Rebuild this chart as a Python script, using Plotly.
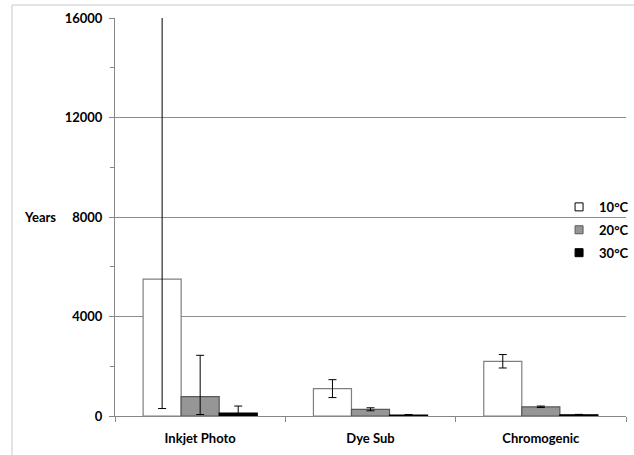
import plotly.graph_objects as go

categories = ["Inkjet Photo", "Dye Sub", "Chromogenic"]
series_names = ["10°C", "20°C", "30°C"]
values_10 = [5500, 1100, 2200]
values_20 = [780, 270, 370]
values_30 = [120, 40, 50]
err_plus_10 = [11500, 360, 270]
err_minus_10 = [5200, 360, 270]
err_plus_20 = [1660, 60, 30]
err_minus_20 = [720, 60, 30]
err_plus_30 = [280, 20, 15]
err_minus_30 = [120, 20, 15]
y_ticks = [0, 4000, 8000, 12000, 16000]

FONT = "Lato, 'Open Sans', Arial, sans-serif"
fills = ["#ffffff", "#969696", "#000000"]
outlines = ["#7f7f7f", "#595959", "#000000"]

fig = go.Figure()
vals = [values_10, values_20, values_30]
eplus = [err_plus_10, err_plus_20, err_plus_30]
eminus = [err_minus_10, err_minus_20, err_minus_30]
for i, name in enumerate(series_names):
    fig.add_trace(go.Bar(
        x=categories, y=vals[i], name=name, showlegend=False,
        marker=dict(color=fills[i], line=dict(color=outlines[i], width=1.2)),
        error_y=dict(type="data", symmetric=False, array=eplus[i], arrayminus=eminus[i],
                     color="#000000", thickness=1, width=4),
    ))
# legend proxies
for i, name in enumerate(series_names):
    fig.add_trace(go.Scatter(
        x=[None], y=[None], mode="markers", name=name, legendgroup=name,
        marker=dict(symbol="square", size=8, color=fills[i],
                    line=dict(color="#000000" if i == 0 else outlines[i], width=1)),
    ))

fig.update_layout(
    width=634, height=455,
    margin=dict(l=115, r=8, t=18, b=39, autoexpand=False),
    paper_bgcolor="white", plot_bgcolor="white",
    barmode="group", bargap=0.33, bargroupgap=0,
    font=dict(family=FONT, size=13, color="#000000"),
    showlegend=True,
    legend=dict(x=0.869, xanchor="left", y=0.563, yanchor="top",
                bgcolor="rgba(0,0,0,0)",
                font=dict(family=FONT, size=13, color="#000", weight="bold"),
                tracegroupgap=3, itemwidth=30),
    xaxis=dict(type="category", tickson="boundaries", ticks="outside", ticklen=5,
               tickcolor="#868686", showline=True, linecolor="#868686", linewidth=1,
               ticklabelstandoff=10,
               tickfont=dict(family=FONT, size=13, color="#000", weight="bold"),
               showgrid=False, zeroline=False),
    yaxis=dict(range=[0, 16000], tickvals=y_ticks, ticktext=[str(v) for v in y_ticks],
               ticks="outside", ticklen=5, tickcolor="#868686", ticklabelstandoff=4,
               minor=dict(dtick=2000, ticks="outside", ticklen=4, tickcolor="#868686", showgrid=False),
               showline=True, linecolor="#868686", linewidth=1,
               showgrid=True, gridcolor="#8c8c8c", gridwidth=1, zeroline=False,
               tickfont=dict(family=FONT, size=13, color="#000", weight="bold")),
    annotations=[dict(text="<b>Years</b>", xref="paper", yref="paper",
                      x=(40 - 115) / 511, y=(416 - 217) / 398, xanchor="center", yanchor="middle",
                      showarrow=False, font=dict(family=FONT, size=13, color="#000"))],
    shapes=[
        dict(type="line", xref="paper", yref="paper", x0=(12 - 115) / 511, x1=(640 - 115) / 511,
             y0=(416 - 5) / 398, y1=(416 - 5) / 398, line=dict(color="#c8c8c8", width=1)),
        dict(type="line", xref="paper", yref="paper", x0=(12 - 115) / 511, x1=(12 - 115) / 511,
             y0=(416 - 5) / 398, y1=(416 - 460) / 398, line=dict(color="#c8c8c8", width=1)),
    ],
)

fig.write_html("out.html", config={"displayModeBar": False},
               post_script="document.body.style.margin='0';")
